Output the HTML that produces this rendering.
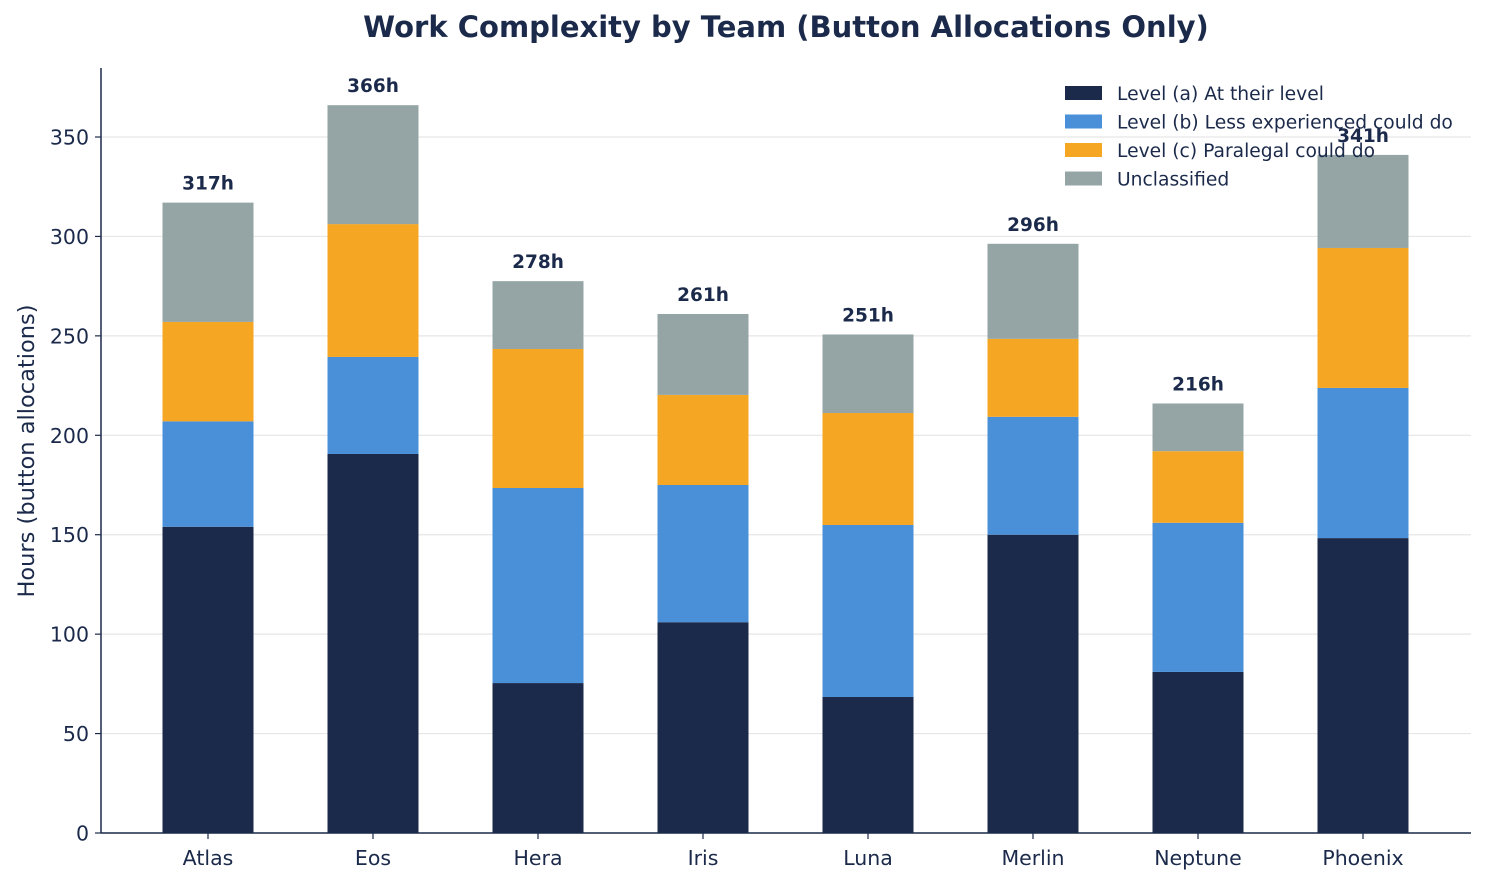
<!DOCTYPE html>
<html><head><meta charset="utf-8"><style>
body{margin:0;background:#fff;}
svg{display:block;font-family:"DejaVu Sans","Liberation Sans",sans-serif;}
</style></head><body>
<svg id="chart" width="1485" height="883">
<text x="786" y="37" text-anchor="middle" font-size="29" font-weight="bold" fill="#1b2a4a">Work Complexity by Team (Button Allocations Only)</text>
<text transform="translate(34,451) rotate(-90)" text-anchor="middle" font-size="22.5" fill="#1b2a4a">Hours (button allocations)</text>
<g id="grid"></g><g id="bars"></g><g id="axes"></g><g id="legend"></g><g id="labels"></g>
</svg>
<script>
const categories=["Atlas","Eos","Hera","Iris","Luna","Merlin","Neptune","Phoenix"];
const levelA=[154,190.6,75.4,106,68.4,150,81,148.3];
const levelB=[53,48.8,98.1,69,86.5,59.3,75,75.5];
const levelC=[50,66.8,69.9,45.3,56.3,39.2,36,70.4];
const unclassified=[60,59.8,34.1,40.7,39.5,47.8,24,46.8];
const yTicks=[0,50,100,150,200,250,300,350];
const seriesNames=["Level (a) At their level","Level (b) Less experienced could do","Level (c) Paralegal could do","Unclassified"];
const colors=["#1b2a4a","#4a90d9","#f5a623","#95a5a6"];
const NS="http://www.w3.org/2000/svg";
const X0=101,X1=1471,Y0=833,YT=68,yMax=384.7;
const y=v=>Y0-(v/yMax)*(Y0-YT);
const x=i=>208+165*i;
const bw=91;
function mk(tag,attrs,parent){const e=document.createElementNS(NS,tag);for(const k in attrs)e.setAttribute(k,attrs[k]);document.getElementById(parent).appendChild(e);return e;}
yTicks.forEach(t=>{
 const g=mk("line",{x1:X0,x2:X1,y1:y(t),y2:y(t),stroke:"#e6e6e6","stroke-width":1.2},"grid");
 
 
 const tk=mk("line",{x1:X0-6,x2:X0,y1:y(t),y2:y(t),stroke:"#1b2a4a","stroke-width":1.2},"axes");
 
 
 const tx=mk("text",{x:X0-12,y:y(t)+7.5,"text-anchor":"end","font-size":20.5,fill:"#1b2a4a"},"axes");
 tx.textContent=t;
 
 
});
const series=[levelA,levelB,levelC,unclassified];
categories.forEach((c,i)=>{
 let base=0;
 series.forEach((s,k)=>{
  const r=mk("rect",{x:x(i)-bw/2,width:bw,y:y(base+s[i]),height:y(base)-y(base+s[i]),fill:colors[k]},"bars");
  
  
  base+=s[i];
 });
 const l=mk("text",{x:x(i),y:y(base)-13,"text-anchor":"middle","font-size":18.5,"font-weight":"bold",fill:"#1b2a4a"},"labels");
 l.textContent=Math.round(base)+"h";
 
 
 const tk=mk("line",{x1:x(i),x2:x(i),y1:Y0,y2:Y0+6,stroke:"#1b2a4a","stroke-width":1.2},"axes");
 
 
 const tx=mk("text",{x:x(i),y:Y0+32,"text-anchor":"middle","font-size":20.5,fill:"#1b2a4a"},"axes");
 tx.textContent=c;
 
 
});
const ax1=mk("line",{x1:X0,x2:X0,y1:YT,y2:Y0,stroke:"#1b2a4a","stroke-width":1.5},"axes");


const ax2=mk("line",{x1:X0,x2:X1,y1:Y0,y2:Y0,stroke:"#1b2a4a","stroke-width":1.5},"axes");


seriesNames.forEach((n,k)=>{
 const yy=86+k*28.5;
 const r=mk("rect",{x:1065,y:yy,width:37,height:14,fill:colors[k]},"legend");
 
 
 const t=mk("text",{x:1117,y:yy+14,"font-size":18.7,fill:"#1b2a4a"},"legend");
 t.textContent=n;
 
 
});
</script>
</body></html>
